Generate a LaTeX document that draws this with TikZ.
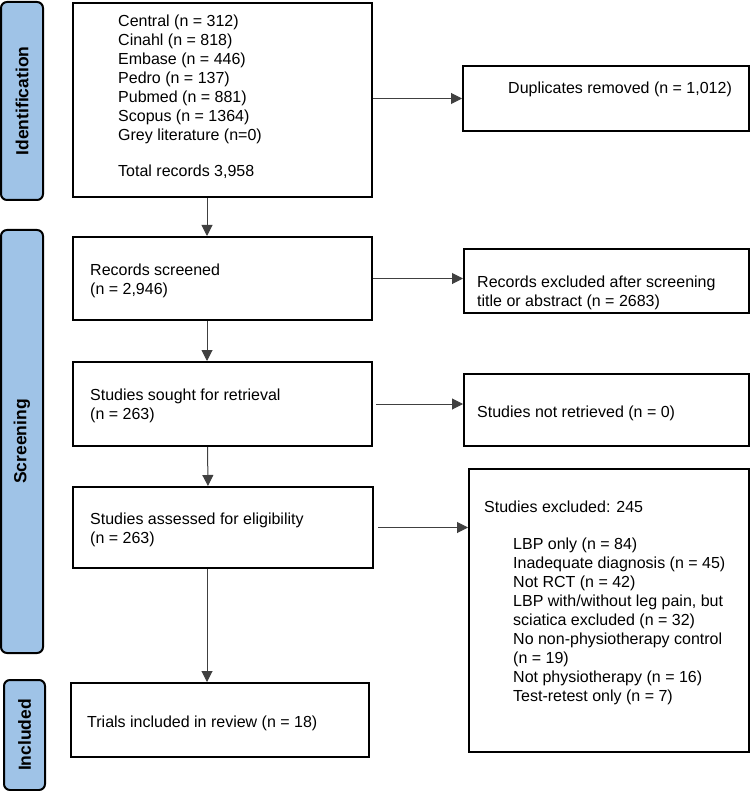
\documentclass[tikz,border=0pt]{standalone}
\usepackage{fontspec}
\setmainfont{Liberation Sans}
\usetikzlibrary{arrows.meta}
\definecolor{phaseblue}{HTML}{9FC3E7}
\begin{document}
\begin{tikzpicture}[x=1pt,y=-1pt,
  box/.style={draw, line width=2pt, fill=white, inner sep=0pt},
  phase/.style={draw, line width=2pt, rounded corners=6pt, fill=phaseblue, inner sep=0pt,
     rotate=90, font=\fontsize{17.5}{20}\selectfont\bfseries},
  arr/.style={-{Triangle[length=11pt,width=11pt]}, line width=1pt, draw=black!75},
  txt/.style={inner sep=0pt, anchor=base west, align=left, font=\fontsize{16}{19}\selectfont}]
\useasboundingbox (0,0) rectangle (751,791);

% phase labels
\node[phase, minimum width=198pt, minimum height=42pt] (pid) at (22,101) {Identification};
\node[phase, minimum width=423pt, minimum height=42pt] (psc) at (22,441.5) {Screening};
\node[phase, minimum width=110pt, minimum height=41pt] (pin) at (24.5,735) {Included};

% left column boxes
\node[box, minimum width=299pt, minimum height=194pt] (b1) at (222.5,100) {};
\node[box, minimum width=299pt, minimum height=83pt] (b2) at (222.5,278.5) {};
\node[box, minimum width=299pt, minimum height=84pt] (b3) at (222.5,404) {};
\node[box, minimum width=300pt, minimum height=81pt] (b4) at (223,527.5) {};
\node[box, minimum width=298pt, minimum height=74pt] (b5) at (220,720) {};

% right column boxes
\node[box, minimum width=286pt, minimum height=65pt] (dup) at (606,98.5) {};
\node[box, minimum width=285pt, minimum height=64pt] (rex) at (606.5,281) {};
\node[box, minimum width=285pt, minimum height=72pt] (nre) at (606.5,410) {};
\node[box, minimum width=280pt, minimum height=283pt] (sex) at (609,610.5) {};

% texts (anchor = baseline of last line)
\node[txt] (t1) at (118,177) {Central (n = 312)\\Cinahl (n = 818)\\Embase (n = 446)\\Pedro (n = 137)\\Pubmed (n = 881)\\Scopus (n = 1364)\\Grey literature (n=0)\\[17pt]Total records 3,958};
\node[txt] (t2) at (90,294) {Records screened\\(n = 2,946)};
\node[txt] (t3) at (90,419) {Studies sought for retrieval\\(n = 263)};
\node[txt] (t4) at (90,543) {Studies assessed for eligibility\\(n = 263)};
\node[txt] (t5) at (87,727) {Trials included in review (n = 18)};
\node[txt] (tdup) at (508,94) {Duplicates removed (n = 1,012)};
\node[txt] (trex) at (477,306) {Records excluded after screening\\title or abstract (n = 2683)};
\node[txt] (tnre) at (477,417) {Studies not retrieved (n = 0)};
\node[txt] (tsex) at (484,512) {Studies excluded: 245};
\node[txt] (tlist) at (513,701) {LBP only (n = 84)\\Inadequate diagnosis (n = 45)\\Not RCT (n = 42)\\LBP with/without leg pain, but\\sciatica excluded (n = 32)\\No non-physiotherapy control\\(n = 19)\\Not physiotherapy (n = 16)\\Test-retest only (n = 7)};

% vertical arrows
\draw[arr] ([xshift=-15.5pt]b1.south) -- ([xshift=-15.5pt]b2.north);
\draw[arr] ([xshift=-15.5pt]b2.south) -- ([xshift=-15.5pt]b3.north);
\draw[arr] ([xshift=-15pt]b3.south) -- ([xshift=-15pt]b4.north);
\draw[arr] ([xshift=-16pt]b4.south) -- ([xshift=-13pt]b5.north);

% horizontal arrows
\draw[arr] (b1.east |- dup.west) -- (dup.west);
\draw[arr] (b2.east) -- (b2.east -| rex.west);
\draw[arr] ([xshift=3pt]b3.east) -- (b3.east -| nre.west);
\draw[arr] ([xshift=4pt]b4.east) -- (b4.east -| sex.west);
\end{tikzpicture}
\end{document}
